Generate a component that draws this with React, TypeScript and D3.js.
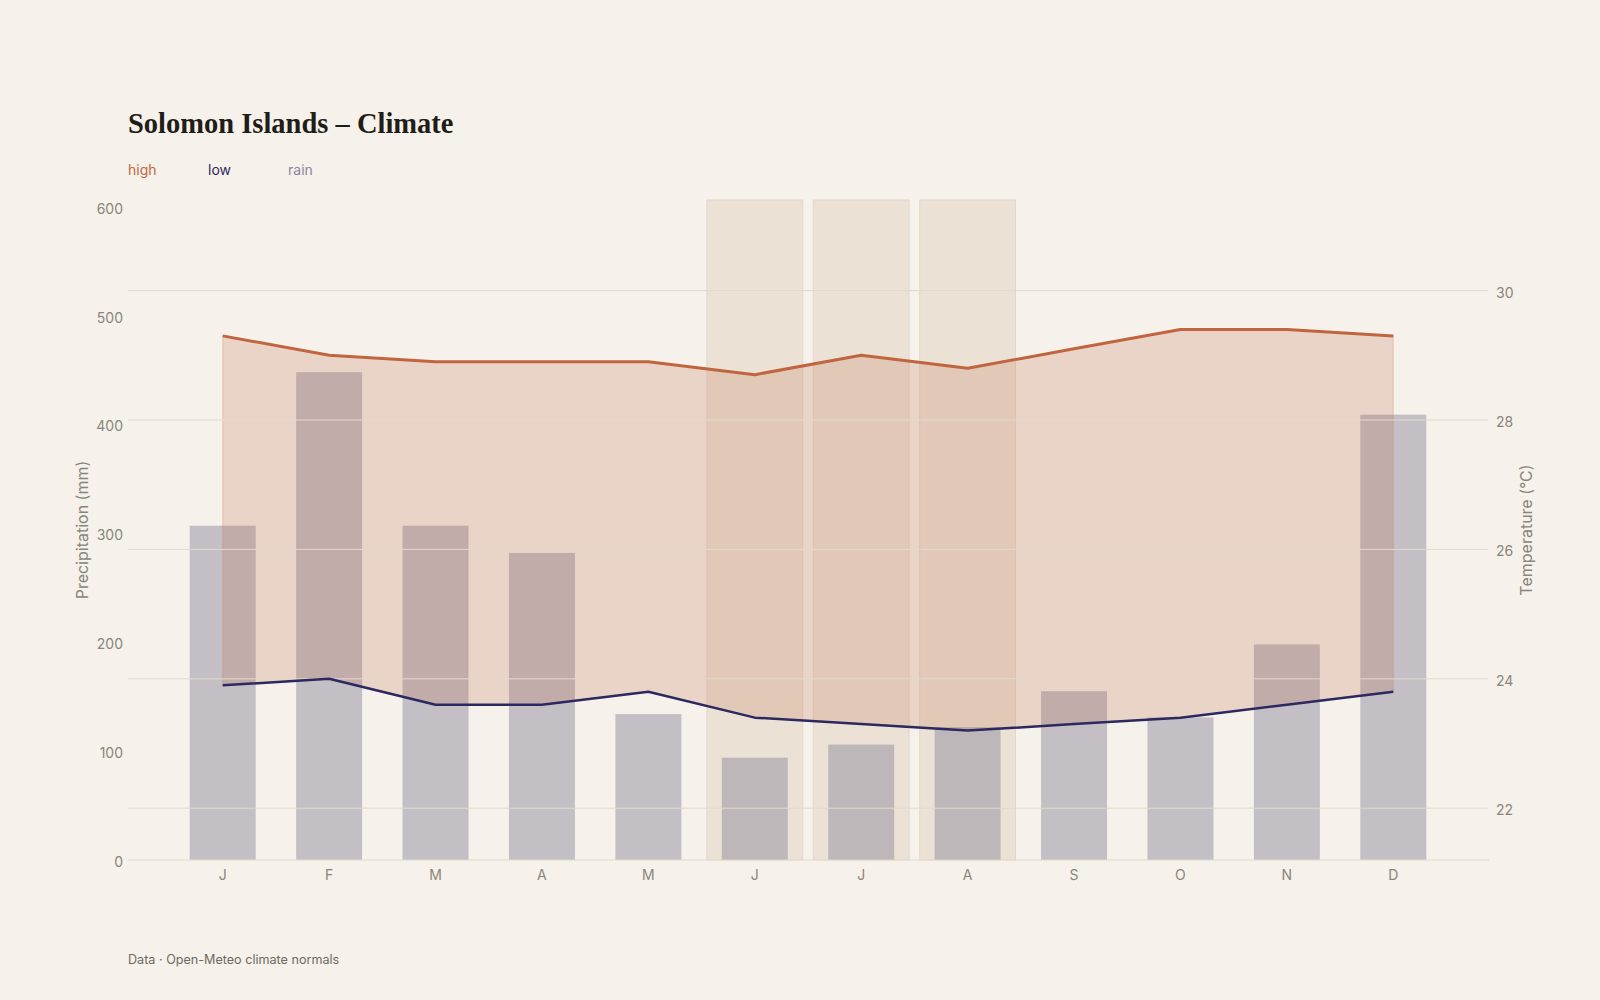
import React from "react";
import * as d3 from "d3";

const months = ["J", "F", "M", "A", "M", "J", "J", "A", "S", "O", "N", "D"];
const highTemp = [29.3, 29.0, 28.9, 28.9, 28.9, 28.7, 29.0, 28.8, 29.1, 29.4, 29.4, 29.3];
const lowTemp = [23.9, 24.0, 23.6, 23.6, 23.8, 23.4, 23.3, 23.2, 23.3, 23.4, 23.6, 23.8];
const rain = [307, 448, 307, 282, 134, 94, 106, 122, 155, 131, 198, 409];
const highlightMonths = [5, 6, 7];
const rainTicks = [0, 100, 200, 300, 400, 500, 600];
const tempTicks = [22, 24, 26, 28, 30];

const W = 1600;
const H = 1000;
const left = 128;
const right = 1488;
const top = 200;
const bottom = 860;

const BG = "#f6f1ea";
const HIGH = "#c0653f";
const LOW = "#2b2960";
const RAIN = "#8a86a6";
const BAR = "#85829a";
const GRID = "#e2dacb";
const TICK = "#8a857c";
const SANS = "Inter, 'Noto Sans', sans-serif";

export default function App() {
  const idx = months.map((_, i) => String(i));
  const x = d3
    .scaleBand<string>()
    .domain(idx)
    .range([left, right])
    .paddingInner(0.1)
    .paddingOuter(0.44);
  const step = x.step();
  const cx = (i: number) => (x(String(i)) as number) + x.bandwidth() / 2;
  const barW = step * 0.62;

  const yR = d3.scaleLinear().domain([0, (d3.max(rain) as number) * 1.353]).range([bottom, top]);
  const tMin = (d3.min(lowTemp) as number) - 2;
  const tMax = (d3.max(highTemp) as number) + 2;
  const yT = d3.scaleLinear().domain([tMin, tMax]).range([bottom, top]);

  const area = d3
    .area<number>()
    .x((_, i) => cx(i))
    .y0((_, i) => yT(lowTemp[i]))
    .y1((d) => yT(d));
  const lineH = d3
    .line<number>()
    .x((_, i) => cx(i))
    .y((d) => yT(d));

  return (
    <svg width={W} height={H} style={{ display: "block", position: "absolute", left: 0, top: 0 }}>
      <rect x={0} y={0} width={W} height={H} fill={BG} />
      <text x={128} y={133} fontFamily="'Liberation Serif', 'DejaVu Serif', serif" fontWeight={700} fontSize={28.5} fill="#1f1d18">
        Solomon Islands – Climate
      </text>
      <g fontFamily={SANS} fontSize={14}>
        <text x={128} y={175} fill={HIGH}>high</text>
        <text x={208} y={175} fill={LOW}>low</text>
        <text x={288} y={175} fill={RAIN}>rain</text>
      </g>

      {highlightMonths.map((i) => (
        <rect
          key={"hl" + i}
          x={x(String(i))}
          y={top}
          width={x.bandwidth()}
          height={bottom - top}
          fill="#ebe2d5"
          stroke="#e3d8c6"
          strokeWidth={1}
        />
      ))}

      {rain.map((r, i) => (
        <rect
          key={"b" + i}
          x={cx(i) - barW / 2}
          y={yR(r)}
          width={barW}
          height={bottom - yR(r)}
          fill={BAR}
          fillOpacity={0.45}
        />
      ))}

      <path d={area(highTemp) as string} fill={HIGH} fillOpacity={0.2} stroke={HIGH} strokeOpacity={0.15} strokeWidth={1.5} />

      {tempTicks.map((t) => (
        <line key={"g" + t} x1={left} x2={right} y1={yT(t)} y2={yT(t)} stroke={GRID} strokeWidth={1} />
      ))}
      <line x1={left} x2={right + 1} y1={bottom} y2={bottom} stroke={GRID} strokeWidth={1} />

      <path d={lineH(highTemp) as string} fill="none" stroke={HIGH} strokeWidth={3} strokeLinejoin="round" />
      <path d={lineH(lowTemp) as string} fill="none" stroke={LOW} strokeWidth={2.5} strokeLinejoin="round" />

      <g fontFamily={SANS} fontSize={14} fill={TICK}>
        {rainTicks.map((t) => (
          <text key={"rt" + t} x={left - 5} y={yR(t)} dy="0.5em" textAnchor="end">
            {t}
          </text>
        ))}
        {tempTicks.map((t) => (
          <text key={"tt" + t} x={right + 8} y={yT(t)} dy="0.5em" textAnchor="start">
            {t}
          </text>
        ))}
        {months.map((m, i) => (
          <text key={"m" + i} x={cx(i)} y={bottom + 20} textAnchor="middle">
            {m}
          </text>
        ))}
      </g>

      <text
        transform={`translate(82,${(top + bottom) / 2}) rotate(-90)`}
        textAnchor="middle"
        fontFamily={SANS}
        fontSize={16}
        fill={TICK}
        dy="0.35em"
      >
        Precipitation (mm)
      </text>
      <text
        transform={`translate(1526,${(top + bottom) / 2}) rotate(-90)`}
        textAnchor="middle"
        fontFamily={SANS}
        fontSize={16}
        fill={TICK}
        dy="0.35em"
      >
        Temperature (°C)
      </text>

      <text x={128} y={964} fontFamily={SANS} fontSize={12.6} fill="#6e6a62">
        Data · Open-Meteo climate normals
      </text>
    </svg>
  );
}
